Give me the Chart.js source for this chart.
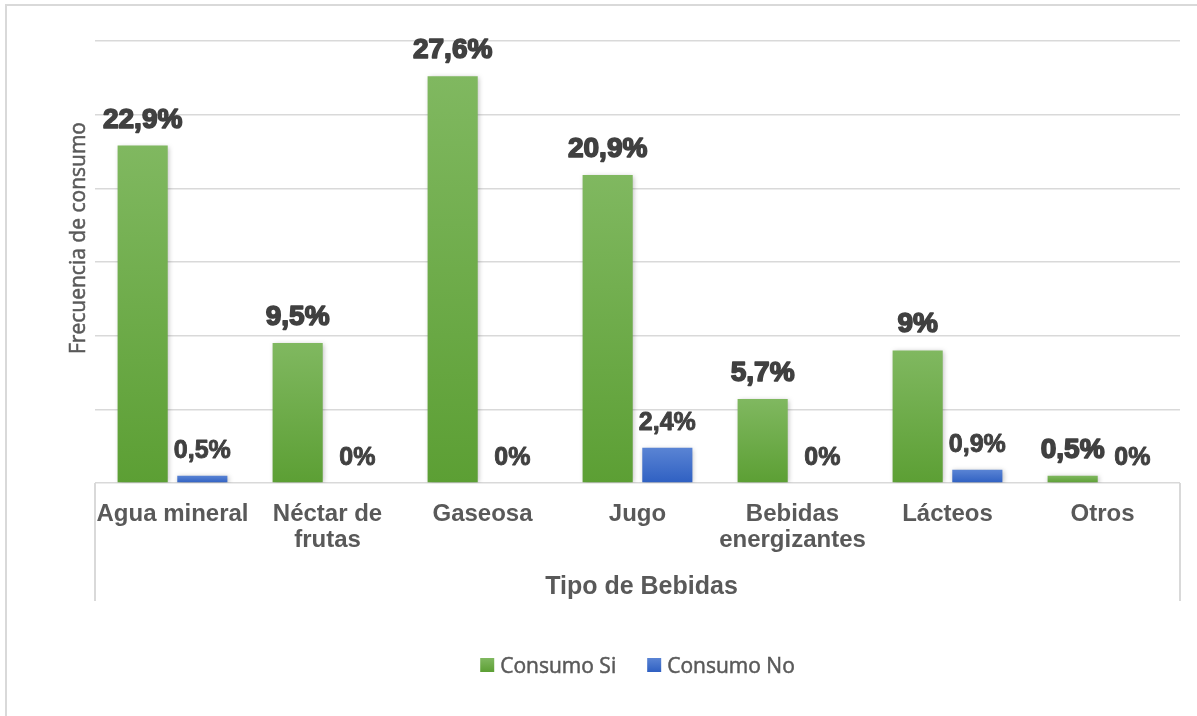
<!DOCTYPE html>
<html>
<head>
<meta charset="utf-8">
<script src="https://cdn.jsdelivr.net/npm/chart.js@4.4.0/dist/chart.umd.min.js"></script>
<style>
  html, body { margin: 0; padding: 0; background: #fff; }
  #wrap { position: relative; width: 1197px; height: 716px; }
</style>
</head>
<body>
<div id="wrap"><canvas id="chart" width="1197" height="716"></canvas></div>
<script>
const categories = [['Agua mineral'], ['Néctar de', 'frutas'], ['Gaseosa'], ['Jugo'], ['Bebidas', 'energizantes'], ['Lácteos'], ['Otros']];
const consumoSi = [22.9, 9.5, 27.6, 20.9, 5.7, 9, 0.5];
const consumoNo = [0.5, 0, 0, 2.4, 0, 0.9, 0];
const seriesNames = ['Consumo Si', 'Consumo No'];
const yMax = 30;
const yStep = 5;

const GREEN = ['#80b860', '#5c9f34'];
const BLUE = ['#5a84d4', '#2f60c2'];

function barGradient(stops) {
  return ctx => {
    const chart = ctx.chart;
    const area = chart.chartArea;
    if (!area || ctx.type !== 'data') return stops[1];
    const y = chart.scales.y;
    const top = y.getPixelForValue(ctx.raw);
    const bottom = y.getPixelForValue(0);
    if (bottom - top < 1) return stops[1];
    const g = chart.ctx.createLinearGradient(0, top, 0, bottom);
    g.addColorStop(0, stops[0]);
    g.addColorStop(1, stops[1]);
    return g;
  };
}

function fmt(v) {
  return String(v).replace('.', ',') + '%';
}

const frame = {
  id: 'frame',
  beforeDraw(chart) {
    const c = chart.ctx;
    c.save();
    c.fillStyle = '#fff';
    c.fillRect(0, 0, chart.width, chart.height);
    c.strokeStyle = '#d9d9d9';
    c.lineWidth = 2;
    c.beginPath();
    c.moveTo(6, chart.height);
    c.lineTo(6, 5);
    c.lineTo(chart.width, 5);
    c.stroke();
    c.restore();
  }
};

const shadow = {
  id: 'shadow',
  beforeDatasetsDraw(chart) {
    const c = chart.ctx;
    c.save();
    c.shadowColor = 'rgba(0,0,0,0.28)';
    c.shadowBlur = 5;
    c.shadowOffsetX = 1;
    c.shadowOffsetY = 1;
  },
  afterDatasetsDraw(chart) {
    chart.ctx.restore();
  }
};

const valueLabels = {
  id: 'valueLabels',
  afterDatasetsDraw(chart) {
    const c = chart.ctx;
    c.save();
    c.textAlign = 'center';
    c.textBaseline = 'alphabetic';
    c.fillStyle = '#404040';
    chart.data.datasets.forEach((ds, di) => {
      const meta = chart.getDatasetMeta(di);
      const heavy = di === 0;
      c.font = heavy ? 'bold 28px "Liberation Sans", Arial, sans-serif' : 'bold 25px "Liberation Sans", Arial, sans-serif';
      c.strokeStyle = '#404040';
      c.lineWidth = heavy ? 1.6 : 0.9;
      c.lineJoin = 'round';
      meta.data.forEach((bar, i) => {
        const txt = fmt(ds.data[i]);
        const y = bar.y - 18;
        c.strokeText(txt, bar.x, y);
        c.fillText(txt, bar.x, y);
      });
    });
    c.restore();
  }
};

const decor = {
  id: 'decor',
  afterDraw(chart) {
    const c = chart.ctx;
    const a = chart.chartArea;
    c.save();
    // multi-level category side lines
    c.strokeStyle = '#d9d9d9';
    c.lineWidth = 2;
    c.beginPath();
    c.moveTo(a.left, a.bottom);
    c.lineTo(a.left, 601);
    c.moveTo(a.right, a.bottom);
    c.lineTo(a.right, 601);
    c.stroke();

    // x axis title
    c.fillStyle = '#595959';
    c.font = 'bold 25px "Liberation Sans", Arial, sans-serif';
    c.textAlign = 'center';
    c.textBaseline = 'alphabetic';
    c.fillText('Tipo de Bebidas', (a.left + a.right) / 2 + 4, 594);

    // y axis title
    c.strokeStyle = '#595959';
    c.lineWidth = 0.5;
    c.save();
    c.translate(85, 238);
    c.rotate(-Math.PI / 2);
    c.font = '21px "Open Sans", "Noto Sans", sans-serif';
    c.textAlign = 'center';
    c.strokeText('Frecuencia de consumo', 0, 0);
    c.fillText('Frecuencia de consumo', 0, 0);
    c.restore();

    // legend
    const colors = [GREEN, BLUE];
    c.font = '21px "Open Sans", "Noto Sans", sans-serif';
    c.textAlign = 'left';
    const box = 14, gapBox = 6, gapItem = 31;
    const widths = seriesNames.map(n => c.measureText(n).width);
    const total = widths.reduce((s, w) => s + box + gapBox + w, 0) + gapItem;
    let x = (a.left + a.right) / 2 - total / 2;
    const yMid = 665;
    seriesNames.forEach((n, i) => {
      const g = c.createLinearGradient(0, yMid - box / 2, 0, yMid + box / 2);
      g.addColorStop(0, colors[i][0]);
      g.addColorStop(1, colors[i][1]);
      c.fillStyle = g;
      c.fillRect(x, yMid - box / 2, box, box);
      x += box + gapBox;
      c.fillStyle = '#595959';
      c.strokeText(n, x, 673);
      c.fillText(n, x, 673);
      x += widths[i] + gapItem;
    });
    c.restore();
  }
};

new Chart(document.getElementById('chart'), {
  type: 'bar',
  data: {
    labels: categories,
    datasets: [
      { label: seriesNames[0], data: consumoSi, backgroundColor: barGradient(GREEN), categoryPercentage: 0.77, barPercentage: 0.84 },
      { label: seriesNames[1], data: consumoNo, backgroundColor: barGradient(BLUE), categoryPercentage: 0.77, barPercentage: 0.84 }
    ]
  },
  options: {
    responsive: false,
    animation: false,
    layout: { padding: { left: 95, right: 17, top: 41, bottom: 0 } },
    plugins: {
      legend: { display: false },
      tooltip: { enabled: false }
    },
    scales: {
      x: {
        grid: { display: false, drawTicks: false },
        border: { display: false },
        ticks: {
          color: '#595959',
          font: { family: '"Liberation Sans", Arial, sans-serif', size: 24, weight: 'bold', lineHeight: 1.1 },
          padding: 18,
          maxRotation: 0,
          autoSkip: false
        },
        afterFit(scale) { scale.height = 716 - 483; }
      },
      y: {
        min: 0,
        max: yMax,
        ticks: { display: false, stepSize: yStep },
        grid: { color: '#d9d9d9', lineWidth: 1.5, drawTicks: false, tickLength: 0 },
        border: { display: false },
        afterFit(scale) { scale.width = 0; }
      }
    }
  },
  plugins: [frame, shadow, valueLabels, decor]
});
</script>
</body>
</html>
